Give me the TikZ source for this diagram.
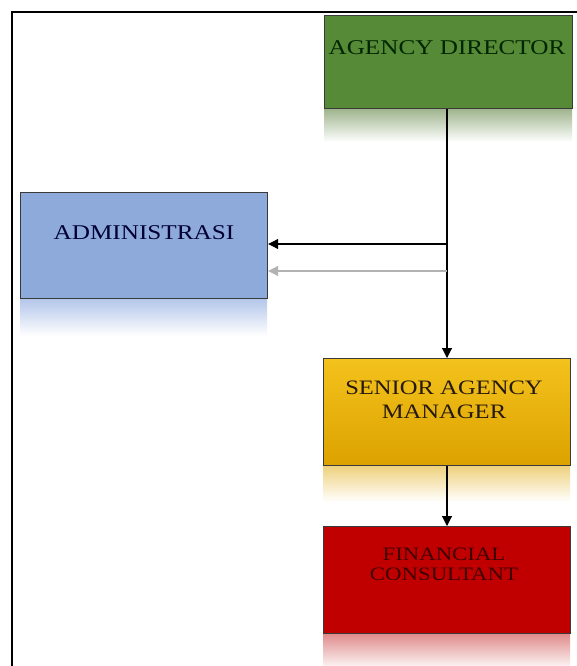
\documentclass[tikz,border=0pt]{standalone}
\usepackage{fontspec}
\setmainfont{Liberation Serif}
\newfontfamily\boxfont[FakeStretch=1.2]{Liberation Serif}
\usetikzlibrary{arrows.meta}
\definecolor{dirgreen}{HTML}{578A37}
\definecolor{admblue}{HTML}{8EAADB}
\definecolor{semtop}{HTML}{F4C21C}
\definecolor{sembot}{HTML}{DCA200}
\definecolor{fcred}{HTML}{C00000}
\definecolor{boxline}{HTML}{3A3A3A}
\definecolor{reflgreen}{HTML}{9FB58E}
\definecolor{reflblue}{HTML}{B4C6EA}
\definecolor{reflyellow}{HTML}{EFD27E}
\definecolor{reflred}{HTML}{E08C8C}
\tikzset{
  box/.style={draw=boxline, line width=1.2pt, anchor=north west, inner sep=0pt},
  lbl/.style={font=\boxfont, align=center, inner sep=0pt},
  conn/.style={line width=1.1pt, -{Triangle[length=10pt,width=10pt]}},
  gconn/.style={line width=1.1pt, draw=gray!60, -{Triangle[length=10pt,width=10pt,fill=gray!60]}}
}
\begin{document}
\begin{tikzpicture}[x=1pt,y=-1pt]
\useasboundingbox (0,0) rectangle (576,666);
\fill[white] (0,0) rectangle (576,666);
% frame
\draw[line width=2pt] (12,667) -- (12,12) -- (577,12);

% reflections
\shade[top color=reflgreen, bottom color=white] (324,109) rectangle (572,142);
\shade[top color=reflblue, bottom color=white] (20,299) rectangle (267,336);
\shade[top color=reflyellow, bottom color=white] (323,466) rectangle (570,502);
\shade[top color=reflred, bottom color=white] (323,634) rectangle (570,670);

% boxes
\node[box, fill=dirgreen, minimum width=248pt, minimum height=93pt] (dir) at (324,15) {};
\node[box, fill=admblue, minimum width=247pt, minimum height=106pt] (adm) at (20,192) {};
\node[box, top color=semtop, bottom color=sembot, minimum width=247pt, minimum height=107pt] (sam) at (323,358) {};
\node[box, fill=fcred, minimum width=247pt, minimum height=107pt] (fc) at (323,526) {};

% labels
\node[lbl, font=\boxfont\fontsize{21}{24}\selectfont, text=black!85!green] (dirt) at (447,48) {AGENCY DIRECTOR};
\node[lbl, font=\boxfont\fontsize{21}{24}\selectfont, text=black!80!blue] (admt) at (144,233) {ADMINISTRASI};
\node[lbl, font=\boxfont\fontsize{20.5}{24}\selectfont, text=black!80!brown] (samt) at (444,400) {SENIOR AGENCY\\MANAGER};
\node[lbl, font=\boxfont\fontsize{19}{20}\selectfont, text=black!75!red] (fct) at (444,564) {FINANCIAL\\CONSULTANT};

% connectors
\coordinate (j1) at (447,244);
\coordinate (j2) at (447,271);
\draw[conn] (dir.south -| j1) -- (sam.north -| j1);
\draw[conn] (j1) -- (adm.east |- j1);
\draw[gconn] (j2) -- (adm.east |- j2);
\draw[conn] (sam.south -| j1) -- (fc.north -| j1);
\end{tikzpicture}
\end{document}
